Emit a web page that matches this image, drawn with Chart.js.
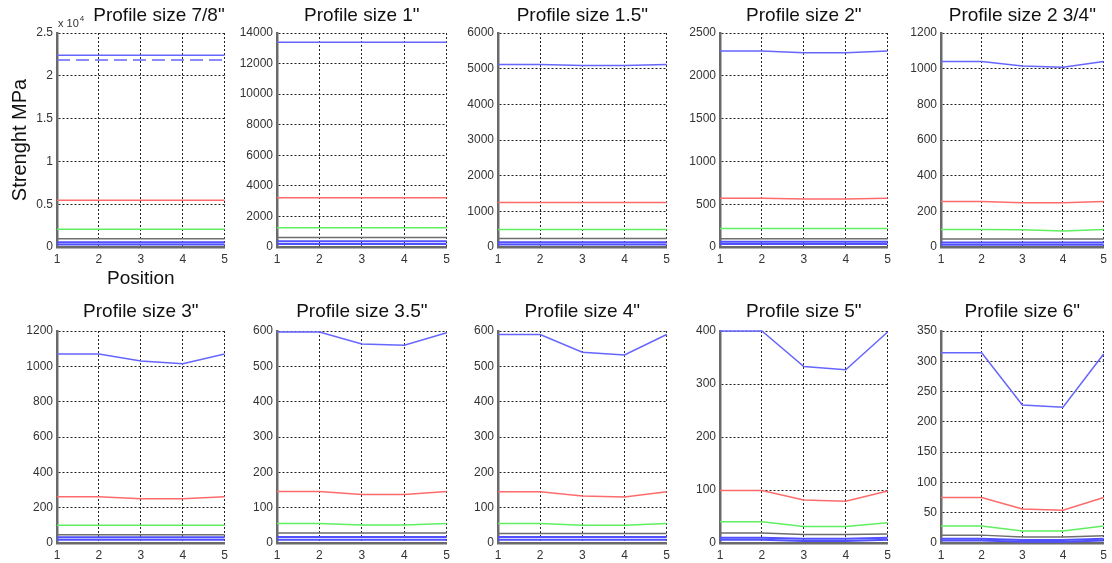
<!DOCTYPE html>
<html>
<head>
<meta charset="utf-8">
<script src="https://cdn.jsdelivr.net/npm/chart.js@4.4.1/dist/chart.umd.min.js"></script>
<style>
  html, body { margin: 0; padding: 0; background: #fff; }
  #wrap { position: relative; width: 1112px; height: 563px; overflow: hidden; }
  #wrap canvas { position: absolute; }
</style>
</head>
<body>
<div id="wrap"></div>
<script>
const positions = ['1', '2', '3', '4', '5'];

const titles = [
  'Profile size 7/8"', 'Profile size 1"', 'Profile size 1.5"', 'Profile size 2"', 'Profile size 2 3/4"',
  'Profile size 3"', 'Profile size 3.5"', 'Profile size 4"', 'Profile size 5"', 'Profile size 6"',
];

const yMax = [25000, 14000, 6000, 2500, 1200, 1200, 600, 600, 400, 350];
const yStep = [5000, 2000, 1000, 500, 200, 200, 100, 100, 100, 50];

const blueTop = [
  [22400, 22400, 22400, 22400, 22400],
  [13400, 13400, 13400, 13400, 13400],
  [5120, 5120, 5090, 5090, 5120],
  [2290, 2290, 2270, 2270, 2290],
  [1040, 1040, 1015, 1008, 1040],
  [1070, 1070, 1030, 1015, 1070],
  [597, 597, 563, 560, 595],
  [590, 590, 540, 532, 590],
  [400, 400, 333, 327, 398],
  [314, 314, 228, 224, 312],
];

// only the first profile has the dashed reference line
const blueDashed = [21850, 21850, 21850, 21850, 21850];

const red = [
  [5450, 5450, 5450, 5450, 5450],
  [3220, 3220, 3220, 3220, 3220],
  [1250, 1250, 1250, 1250, 1250],
  [570, 570, 560, 560, 570],
  [255, 255, 248, 248, 255],
  [262, 262, 250, 250, 262],
  [146, 146, 137, 137, 146],
  [145, 145, 133, 130, 145],
  [99, 99, 81, 79, 98],
  [75, 75, 56, 54, 75],
];

const green = [
  [2080, 2080, 2080, 2080, 2080],
  [1260, 1260, 1260, 1260, 1260],
  [490, 490, 490, 490, 490],
  [215, 215, 215, 215, 215],
  [98, 98, 97, 90, 98],
  [100, 100, 100, 100, 100],
  [55, 55, 51, 51, 55],
  [55, 55, 50, 50, 55],
  [40, 40, 31, 31, 38],
  [28, 28, 20, 20, 28],
];

const gray = [
  [950, 950, 950, 950, 950],
  [620, 620, 620, 620, 620],
  [240, 240, 240, 240, 240],
  [95, 95, 95, 95, 95],
  [45, 45, 45, 45, 45],
  [47, 47, 47, 47, 47],
  [28, 28, 28, 28, 28],
  [27, 27, 27, 27, 27],
  [19, 19, 16, 16, 17],
  [13, 13, 10, 10, 12],
];

const blueLowA = [
  [550, 550, 550, 550, 550],
  [380, 380, 380, 380, 380],
  [130, 130, 130, 130, 130],
  [60, 60, 60, 60, 60],
  [25, 25, 25, 25, 25],
  [32, 32, 32, 32, 32],
  [17, 17, 17, 17, 17],
  [17, 17, 17, 17, 17],
  [10, 10, 8, 8, 10],
  [7, 7, 5, 5, 7],
];

const blueLowB = [
  [300, 300, 300, 300, 300],
  [200, 200, 200, 200, 200],
  [70, 70, 70, 70, 70],
  [35, 35, 35, 35, 35],
  [12, 12, 12, 12, 12],
  [18, 18, 18, 18, 18],
  [9, 9, 9, 9, 9],
  [9, 9, 9, 9, 9],
  [6, 6, 4, 4, 6],
  [4, 4, 2, 2, 4],
];

// plot box of each panel in page pixels
const columns = [[57, 225], [277, 447], [498, 667], [720, 888], [941, 1110]];
const rows = [[33, 247], [331, 543]];

const FONT = "'Liberation Sans', Arial, sans-serif";

const exponentLabel = {
  id: 'exponentLabel',
  afterDraw(chart) {
    if (!chart.options.plugins.exponentLabel.show) return;
    const { ctx, chartArea } = chart;
    ctx.save();
    ctx.fillStyle = '#333';
    ctx.textBaseline = 'alphabetic';
    ctx.font = `11px ${FONT}`;
    ctx.fillText('x 10', chartArea.left + 1, chartArea.top - 6);
    const w = ctx.measureText('x 10').width;
    ctx.font = `8px ${FONT}`;
    ctx.fillText('4', chartArea.left + w + 2, chartArea.top - 12);
    ctx.restore();
  },
};

const line = (data, color, width, dash) => ({
  data,
  borderColor: color,
  borderWidth: width,
  borderDash: dash || [],
  pointRadius: 0,
  tension: 0,
  fill: false,
  clip: 3,
});

const buildPanel = (i) => {
  const row = Math.floor(i / 5);
  const col = i % 5;
  const first = i === 0;
  const [plotLeft, plotRight] = columns[col];
  const [plotTop, plotBottom] = rows[row];

  const yWidth = first ? plotLeft : 50;
  const xHeight = first ? 46 : 20;
  const padRight = col === 4 ? 2 : 8;
  const padTop = row === 0 ? 4.6 : 10.6;
  const titleGap = row === 0 ? 5.6 : 7.6;
  const titleBlock = 19 * 1.2 + titleGap;

  const left = plotLeft - yWidth;
  const top = plotTop - titleBlock - padTop;
  const width = Math.min(yWidth + (plotRight - plotLeft) + padRight, 1112 - left);
  const height = plotBottom - top + xHeight;

  const canvas = document.createElement('canvas');
  canvas.width = width;
  canvas.height = height;
  canvas.style.left = `${left}px`;
  canvas.style.top = `${top}px`;
  canvas.style.width = `${width}px`;
  canvas.style.height = `${height}px`;
  document.getElementById('wrap').appendChild(canvas);

  const datasets = [line(blueTop[i], '#6666ff', 1.5)];
  if (first) datasets.push(line(blueDashed, '#6666ff', 1.5, [13, 6]));
  datasets.push(
    line(red[i], '#ff6b6b', 1.5),
    line(green[i], '#5fef5f', 1.5),
    line(gray[i], '#6e6e6e', 1.5),
    line(blueLowA[i], '#5050ff', 2),
    line(blueLowB[i], '#5050ff', 2),
  );

  return new Chart(canvas, {
    type: 'line',
    data: { labels: positions, datasets },
    plugins: [exponentLabel],
    options: {
      responsive: false,
      animation: false,
      devicePixelRatio: 1,
      layout: { padding: { top: padTop, right: padRight, bottom: 0, left: 0 } },
      plugins: {
        legend: { display: false },
        tooltip: { enabled: false },
        exponentLabel: { show: first },
        title: {
          display: true,
          text: titles[i],
          fullSize: false,
          align: first ? 'end' : 'center',
          color: '#111',
          font: { family: FONT, size: 19, weight: 'normal' },
          padding: { top: 0, bottom: titleGap },
        },
      },
      scales: {
        x: {
          offset: false,
          afterFit: (scale) => { scale.height = xHeight; },
          grid: { color: '#222', lineWidth: 1, drawTicks: false },
          border: { display: true, color: '#6a6a6a', width: 2.5, dash: [2, 2] },
          ticks: { color: '#333', padding: 5, maxRotation: 0, font: { family: FONT, size: 12 } },
          title: {
            display: first,
            text: 'Position',
            color: '#111',
            font: { family: FONT, size: 19 },
            padding: { top: 0, bottom: 2.6 },
          },
        },
        y: {
          min: 0,
          max: yMax[i],
          afterFit: (scale) => { scale.width = yWidth; },
          grid: { color: '#222', lineWidth: 1, drawTicks: false },
          border: { display: true, color: '#6a6a6a', width: 2.5, dash: [2, 2] },
          ticks: {
            stepSize: yStep[i],
            color: '#333',
            padding: 4,
            font: { family: FONT, size: 12 },
            callback: (v) => (first ? v / 10000 : v),
          },
          title: {
            display: first,
            text: 'Strenght MPa',
            color: '#111',
            font: { family: FONT, size: 20 },
            padding: { top: 8, bottom: 0 },
          },
        },
      },
    },
  });
};

titles.forEach((_, i) => buildPanel(i));
</script>
</body>
</html>
